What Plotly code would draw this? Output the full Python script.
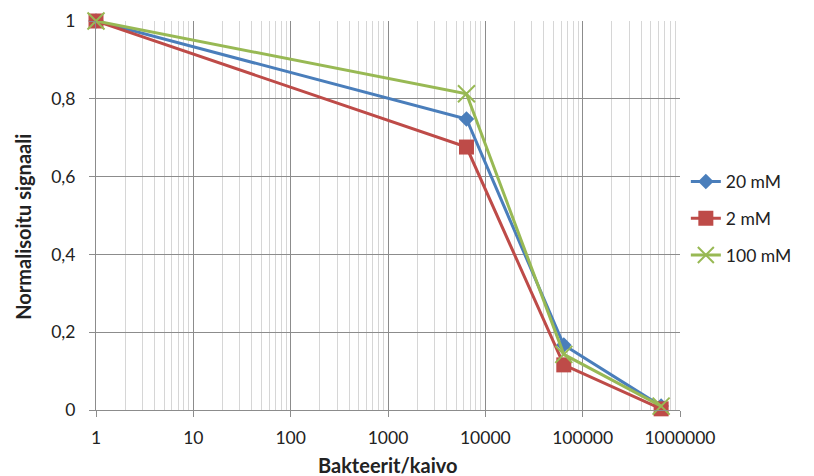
import plotly.graph_objects as go

x_vals = [1, 6400, 64000, 640000]
s20 = [1.0, 0.748, 0.167, 0.01]
s2 = [1.0, 0.676, 0.116, 0.003]
s100 = [1.0, 0.813, 0.143, 0.01]
x_ticks = [1, 10, 100, 1000, 10000, 100000, 1000000]
x_tick_labels = ["1", "10", "100", "1000", "10000", "100000", "1000000"]
y_ticks = [0, 0.2, 0.4, 0.6, 0.8, 1.0]
y_tick_labels = ["0", "0,2", "0,4", "0,6", "0,8", "1"]
x_title = "Bakteerit/kaivo"
y_title = "Normalisoitu signaali"

font = "Lato, 'Open Sans', sans-serif"

fig = go.Figure()
fig.add_trace(go.Scatter(x=x_vals, y=s20, name="20 mM", mode="lines+markers",
                         legendgroup="a", cliponaxis=False,
                         line=dict(color="#4a7ebb", width=3),
                         marker=dict(symbol="diamond", size=12, color="#4a7ebb")))
fig.add_trace(go.Scatter(x=x_vals, y=s2, name="2 mM", mode="lines+markers",
                         legendgroup="b", cliponaxis=False,
                         line=dict(color="#be4b48", width=3),
                         marker=dict(symbol="square", size=15, color="#be4b48")))
fig.add_trace(go.Scatter(x=x_vals, y=s100, name="100 mM", mode="lines+markers",
                         legendgroup="c", cliponaxis=False,
                         line=dict(color="#98b954", width=3),
                         marker=dict(symbol="x-thin", size=17,
                                     line=dict(color="#98b954", width=2))))

fig.update_layout(
    width=814, height=476,
    margin=dict(l=88, r=142, t=13, b=74),
    paper_bgcolor="white", plot_bgcolor="white",
    font=dict(family=font, size=17.5, color="#222"),
    legend=dict(x=1.01, y=0.492, xanchor="left", yanchor="middle",
                font=dict(size=17.5), tracegroupgap=11, traceorder="grouped"),
    annotations=[
        dict(text="<b>" + x_title + "</b>", xref="paper", yref="paper",
             x=0.5, y=-0.142, xanchor="center", yanchor="middle",
             showarrow=False, font=dict(size=20)),
        dict(text="<b>" + y_title + "</b>", xref="paper", yref="paper",
             x=-0.124, y=0.47, xanchor="center", yanchor="middle", textangle=-90,
             showarrow=False, font=dict(size=20)),
    ],
)
fig.update_xaxes(
    type="log", range=[0, 6], automargin=False,
    tickvals=x_ticks, ticktext=x_tick_labels,
    showgrid=True, gridcolor="#8c8c8c", gridwidth=1,
    minor=dict(showgrid=True, gridcolor="#d6d6d6", dtick="D1", ticks=""),
    showline=True, linecolor="#8c8c8c", ticks="outside", ticklen=6, tickcolor="#8c8c8c",
    ticklabelstandoff=6, zeroline=False,
)
fig.update_yaxes(
    range=[0, 1.0], tickvals=y_ticks, ticktext=y_tick_labels, automargin=False,
    showgrid=True, gridcolor="#8c8c8c", gridwidth=1,
    showline=True, linecolor="#8c8c8c", ticks="outside", ticklen=6, tickcolor="#8c8c8c",
    ticklabelstandoff=10, zeroline=False,
)

fig.write_html("out.html")
